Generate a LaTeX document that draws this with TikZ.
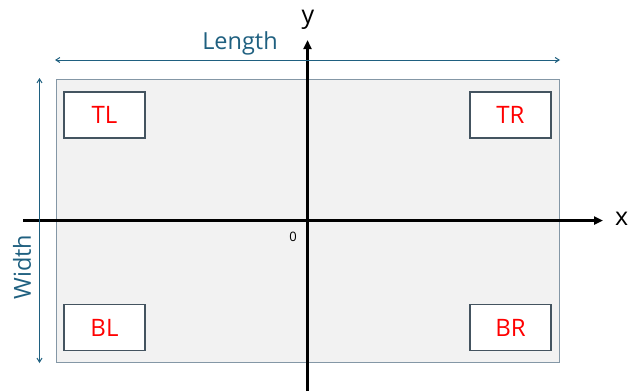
\documentclass[tikz,border=0pt]{standalone}
\usepackage{fontspec}
\setmainfont{Open Sans}
\usetikzlibrary{arrows.meta}
\definecolor{dimblue}{RGB}{31,96,128}
\definecolor{panelfill}{RGB}{242,242,242}
\definecolor{panelline}{RGB}{132,151,166}
\definecolor{boxline}{RGB}{68,84,96}
\tikzset{
  corner/.style={draw=boxline, line width=1.2pt, fill=white, minimum width=81pt, minimum height=46pt, inner sep=0pt, text=red, font=\fontsize{24}{28}\selectfont},
  axis/.style={line width=2.8pt, -{Triangle[length=9pt,width=8pt]}},
  dim/.style={draw=dimblue, line width=1pt, {Straight Barb[length=4pt,width=5pt]}-{Straight Barb[length=4pt,width=5pt]}},
  dimtext/.style={text=dimblue, font=\fontsize{23.5}{28}\selectfont, inner sep=0pt},
  axlabel/.style={font=\fontsize{25}{28}\selectfont, inner sep=0pt}
}
\begin{document}
\begin{tikzpicture}[x=1pt,y=-1pt]
\useasboundingbox (0,0) rectangle (629,391);
\node[draw=panelline, fill=panelfill, line width=1pt, minimum width=503pt, minimum height=283pt, inner sep=0pt, anchor=north west] (panel) at (56,79) {};
\node[corner] (TL) at (104.5,115) {TL};
\node[corner] (TR) at (510.5,115) {TR};
\node[corner] (BL) at (104.5,327.5) {BL};
\node[corner] (BR) at (510.5,327.5) {BR};
\coordinate (xs) at (23,220.5);
\coordinate (xe) at (603,220.5);
\coordinate (ys) at (307.5,391);
\coordinate (ye) at (307.5,40);
\draw[axis] (xs) -- (xe);
\draw[axis] (ys) -- (ye);
\node[axlabel, anchor=west] (xl) at (615,219) {x};
\node[axlabel] (yl) at (308,20) {y};
\node[font=\fontsize{13}{15}\selectfont, inner sep=0pt] (zero) at (293,237) {0};
\coordinate (ls) at (55,60);
\coordinate (le) at (560,60);
\draw[dim] (ls) -- (le);
\node[dimtext] (length) at (240,43) {Length};
\coordinate (ws) at (39.5,78);
\coordinate (we) at (39.5,363);
\draw[dim] (ws) -- (we);
\node[dimtext, rotate=90] (width) at (22,267) {Width};
\end{tikzpicture}
\end{document}
